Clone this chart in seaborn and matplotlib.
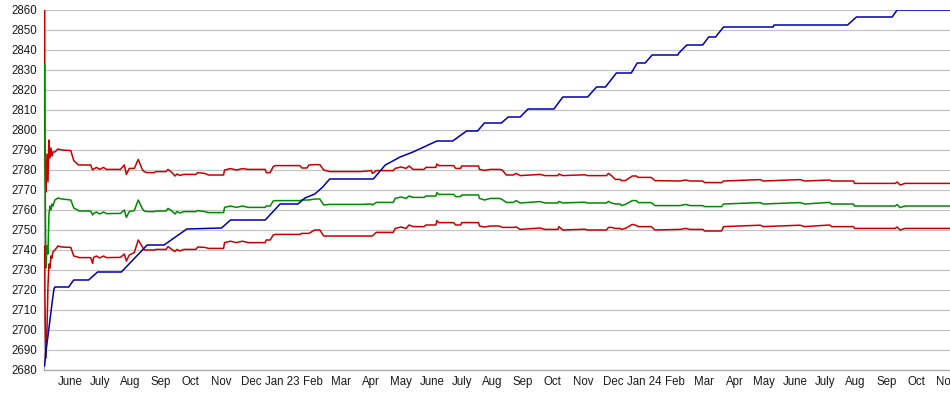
import matplotlib
matplotlib.use("Agg")
import matplotlib.pyplot as plt
import seaborn as sns
import pandas as pd

# ---------------- data ----------------
start_date = "2022-05-20"

band_days = [0.7, 0.9, 1.4, 2, 3, 4, 5, 6, 7, 8, 9, 11, 14, 18, 27, 30, 34, 35, 47, 49,
             50, 53, 56, 60, 63, 77, 81, 83, 86, 91, 95, 99, 101, 104, 111, 113, 123, 125, 129, 132,
             134, 137, 141, 153, 155, 162, 166, 181, 182, 188, 194, 200, 206, 223, 224, 228, 231, 233, 258, 260,
             265, 267, 273, 278, 282, 288, 319, 330, 331, 335, 352, 354, 360, 365, 368, 372, 383, 385, 395, 396,
             398, 413, 415, 420, 421, 438, 439, 444, 450, 459, 462, 466, 473, 476, 480, 500, 505, 518, 519, 523,
             545, 548, 567, 569, 572, 576, 581, 582, 586, 593, 597, 599, 612, 616, 641, 647, 651, 664, 666, 683,
             685, 722, 725, 762, 767, 792, 794, 816, 817, 858, 860, 863, 868, 913]

upper_red = [2860, 2793, 2775, 2769, 2788, 2774, 2795, 2786, 2791, 2787, 2789, 2789, 2790.5, 2790, 2789.7, 2784.7, 2782.8, 2782.5, 2782.5, 2780,
             2780.5, 2781.3, 2780.3, 2781.3, 2780.3, 2780.3, 2782.5, 2777.8, 2780.8, 2780.8, 2785.3, 2780.3, 2779.2, 2778.7, 2778.7, 2779.2, 2779.2, 2780.3, 2778.7, 2777,
             2778, 2777.3, 2777.8, 2777.8, 2778.7, 2778.3, 2777.5, 2777.5, 2780, 2780.7, 2780, 2780.7, 2780.3, 2780.3, 2778.7, 2778.7, 2781.7, 2782.2, 2782.2, 2781,
             2781, 2782.5, 2782.7, 2782.7, 2780, 2779.2, 2779.2, 2779.7, 2778.3, 2779.7, 2779.7, 2780.8, 2781.5, 2780.8, 2782, 2780.3, 2780.3, 2781.3, 2781.3, 2783,
             2782.2, 2782.2, 2780.8, 2780.8, 2782, 2782, 2780.3, 2779.8, 2780.3, 2780.3, 2780, 2777.5, 2777.5, 2778.3, 2777.2, 2777.8, 2777.2, 2777.2, 2778, 2777.2,
             2777.6, 2777.2, 2777.2, 2778.3, 2777.2, 2775.3, 2775.3, 2774.7, 2774.7, 2777, 2777, 2776.3, 2776.3, 2774.7, 2774.5, 2775, 2774.5, 2774.5, 2773.7, 2773.7,
             2774.5, 2775.2, 2774.5, 2775.2, 2774.5, 2775, 2774.5, 2774.5, 2773.3, 2773.3, 2774, 2772.5, 2773.3, 2773.3]

middle_green = [2833, 2793, 2760, 2731, 2742, 2738, 2758, 2762, 2760, 2763, 2762, 2765, 2766, 2765.5, 2765, 2761, 2760, 2759.5, 2759.5, 2757.5,
                2758.3, 2759, 2758, 2759, 2758.2, 2758.3, 2760, 2756.3, 2759.2, 2759.7, 2765, 2760.8, 2759.5, 2759.2, 2759.2, 2759.5, 2759.5, 2760.8, 2759.5, 2758,
                2759.2, 2758.5, 2759.2, 2759.2, 2759.7, 2759.2, 2758.7, 2758.7, 2761.3, 2762, 2761.3, 2762, 2761.3, 2761.3, 2762, 2762, 2764.5, 2764.7, 2764.7, 2765,
                2765, 2765, 2765.5, 2765.5, 2762.5, 2762.8, 2762.8, 2763, 2762.5, 2763.8, 2763.8, 2765.8, 2766.5, 2765.8, 2767, 2766.3, 2766.3, 2767, 2767, 2768.7,
                2767.8, 2767.8, 2766.7, 2766.7, 2767.5, 2767.5, 2765.8, 2765, 2765.8, 2765.8, 2765.2, 2763.8, 2763.8, 2764.7, 2763.5, 2764.2, 2763.5, 2763.5, 2764.3, 2763.5,
                2763.9, 2763.5, 2763.5, 2764.3, 2763.5, 2763, 2763, 2762.2, 2762.8, 2764.7, 2764.7, 2763.7, 2763.7, 2762.2, 2762.2, 2762.8, 2762.2, 2762.2, 2761.7, 2761.7,
                2763, 2763.7, 2763, 2763.7, 2763, 2763.8, 2763, 2763, 2762, 2762, 2762.7, 2761.2, 2762, 2762]

lower_red = [2742, 2717, 2700, 2686, 2700, 2722, 2733, 2731, 2737, 2736, 2739, 2740, 2742, 2741.5, 2741.3, 2737, 2736.5, 2736.2, 2736.2, 2733.3,
             2736.3, 2737, 2736, 2737, 2736.2, 2736.3, 2738, 2734.5, 2737.5, 2738.7, 2745, 2741.7, 2740, 2740, 2740, 2740.3, 2740.3, 2741.7, 2740.3, 2739.2,
             2740.3, 2739.5, 2740.3, 2740.3, 2741.5, 2741.3, 2740.8, 2740.8, 2743.7, 2744.4, 2743.7, 2744.4, 2743.7, 2743.7, 2745, 2745, 2747.5, 2747.8, 2747.8, 2748.3,
             2748.3, 2748.3, 2750, 2750, 2747, 2747, 2747, 2747, 2747, 2748.8, 2748.8, 2750.8, 2751.5, 2750.8, 2752.5, 2751.7, 2751.7, 2752.5, 2752.5, 2754.7,
             2753.7, 2753.7, 2752.5, 2752.5, 2753.7, 2753.7, 2752, 2751.5, 2752, 2752, 2751.3, 2751.3, 2751.3, 2751.5, 2750.3, 2751, 2750.3, 2750.3, 2751.7, 2750,
             2750.4, 2750, 2750, 2751.3, 2751.3, 2750.8, 2750.8, 2750.3, 2750.8, 2752.8, 2752.3, 2751.7, 2751.7, 2750, 2750.3, 2750.8, 2750.3, 2750.3, 2749.5, 2749.5,
             2751.7, 2752.4, 2751.7, 2752.4, 2751.7, 2752.5, 2751.7, 2751.7, 2750.8, 2750.8, 2751.5, 2750, 2750.8, 2750.8]

blue_days = [0.5, 1, 2, 4, 6, 8, 10, 11, 25, 27, 30, 45, 54, 78, 104, 121, 144, 179, 188, 223,
             238, 256, 263, 273, 281, 288, 332, 344, 359, 372, 396, 412, 426, 437, 444, 461, 468, 480, 488, 514,
             523, 548, 557, 566, 577, 592, 598, 606, 613, 639, 640, 648, 664, 670, 677, 685, 735, 736, 810, 819,
             855, 860, 913]
blue_vals = [2682, 2684, 2690, 2697, 2705, 2713, 2720.5, 2721.5, 2721.5, 2723, 2725, 2725, 2729, 2729, 2742.5, 2742.5, 2750.5, 2751, 2755, 2755,
             2763, 2763, 2766, 2768, 2771.5, 2775.5, 2775.5, 2782.5, 2786.5, 2789, 2794.5, 2794.5, 2799.5, 2799.5, 2803.5, 2803.5, 2806.5, 2806.5, 2810.5, 2810.5,
             2816.5, 2816.5, 2821.5, 2821.5, 2828.5, 2828.5, 2833.5, 2833.5, 2837.5, 2837.5, 2838.5, 2842.5, 2842.5, 2846.5, 2846.5, 2851.5, 2851.5, 2852.5, 2852.5, 2856.5,
             2856.5, 2860, 2860]

month_labels = ["June", "July", "Aug", "Sep", "Oct", "Nov", "Dec", "Jan 23", "Feb", "Mar",
                "Apr", "May", "June", "July", "Aug", "Sep", "Oct", "Nov", "Dec", "Jan 24",
                "Feb", "Mar", "Apr", "May", "June", "July", "Aug", "Sep", "Oct", "Nov"]
first_month = "2022-06-01"
y_min, y_max, y_step = 2680, 2860, 10
x_span_days = 913.3

assert len(band_days) == len(upper_red) == len(middle_green) == len(lower_red)
assert len(blue_days) == len(blue_vals)

# ---------------- drawing ----------------
sns.set_style("white")
plt.rcParams["font.family"] = ["Liberation Sans", "DejaVu Sans"]

t0 = pd.Timestamp(start_date)
band_dates = t0 + pd.to_timedelta(band_days, unit="D")
blue_dates = t0 + pd.to_timedelta(blue_days, unit="D")

fig = plt.figure(figsize=(9.5, 3.95), dpi=100)
ax = fig.add_axes([44 / 950, 25 / 395, 906 / 950, 360 / 395])

lw = 1.1
sns.lineplot(x=band_dates, y=upper_red, color="#c80000", lw=lw, ax=ax,
             estimator=None, sort=False)
sns.lineplot(x=band_dates, y=middle_green, color="#008a00", lw=lw, ax=ax,
             estimator=None, sort=False)
sns.lineplot(x=band_dates, y=lower_red, color="#c80000", lw=lw, ax=ax,
             estimator=None, sort=False)
sns.lineplot(x=blue_dates, y=blue_vals, color="#0000b0", lw=lw, ax=ax,
             estimator=None, sort=False)

ax.set_xlim(t0, t0 + pd.Timedelta(days=x_span_days))
ax.set_ylim(y_min, y_max)

ax.set_yticks(range(y_min, y_max + 1, y_step))
ax.grid(axis="y", color="#c4c4c4", lw=0.9)
ax.grid(axis="x", visible=False)
ax.set_axisbelow(True)

month_pos = pd.date_range(first_month, periods=len(month_labels), freq="MS") + pd.Timedelta(days=14)
ax.set_xticks(month_pos)
ax.set_xticklabels(month_labels)

ax.tick_params(axis="both", length=0, labelsize=8.3, colors="#1a1a1a")
ax.tick_params(axis="y", pad=5)
ax.tick_params(axis="x", pad=4)

for side in ["top", "right"]:
    ax.spines[side].set_visible(False)
for side in ["left", "bottom"]:
    ax.spines[side].set_color("#a8a8a8")
    ax.spines[side].set_linewidth(0.9)
    ax.spines[side].set_zorder(0.5)

ax.set_xlabel("")
ax.set_ylabel("")

fig.savefig("out.png", dpi=100)
